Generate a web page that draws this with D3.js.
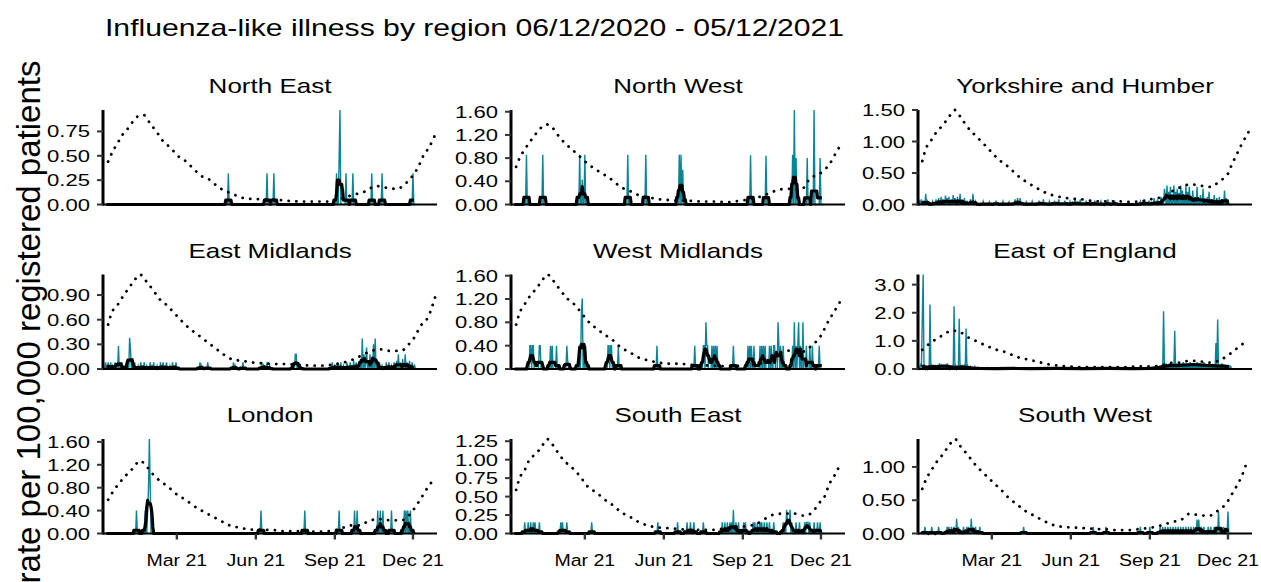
<!DOCTYPE html>
<html>
<head>
  <meta http-equiv="Content-Type" content="text/html;charset=utf-8" />
  <style type="text/css">
    body { margin: 0; background: #fff; }
    text { font-family: "Liberation Sans", Arial, sans-serif; fill: #000; }
  </style>
</head>
<body>
  <div id="chart"></div>
  <script src="https://d3js.org/d3.v7.min.js"></script>
  <script type="text/javascript">
    var W = 1261, H = 582;

    var title = "Influenza-like illness by region 06/12/2020 - 05/12/2021";
    var yTitle = "rate per 100,000 registered patients";

    var regions = ["North East", "North West", "Yorkshire and Humber",
                   "East Midlands", "West Midlands", "East of England",
                   "London", "South East", "South West"];

    // y tick labels per panel (free y scales)
    var yTicks = [
      [0, 0.25, 0.5, 0.75],
      [0, 0.4, 0.8, 1.2, 1.6],
      [0, 0.5, 1.0, 1.5],
      [0, 0.3, 0.6, 0.9],
      [0, 0.4, 0.8, 1.2, 1.6],
      [0, 1, 2, 3],
      [0, 0.4, 0.8, 1.2, 1.6],
      [0, 0.25, 0.5, 0.75, 1.0, 1.25],
      [0, 0.5, 1.0]
    ];
    var yFormats = [".2f", ".2f", ".2f", ".2f", ".2f", ".1f", ".2f", ".2f", ".2f"];

    var xTicks = ["2021-03-01", "2021-06-01", "2021-09-01", "2021-12-01"];

    // daily rate: [day, value], day 0 = 06/12/2020, every other day is 0
    var dailyNE = [[145,0.32],[190,0.32],[198,0.32],[271,0.32],[274,0.47],[275,0.97],[282,0.32],
      [290,0.32],[312,0.32],[324,0.32],[360,0.32]];
    var dailyNW = [[17,0.86],[36,0.86],[79,0.86],[82,0.43],[85,0.86],[135,0.86],[156,0.86],
      [195,0.86],[197,0.86],[199,0.6],[278,0.85],[296,0.84],[327,0.86],[329,1.63],[331,0.8],
      [344,0.8],[352,1.63],[359,0.8]];
    var dailyYH = [[1,0.05],[3,0.08],[8,0.17],[10,0.05],[16,0.05],[20,0.08],[23,0.1],[26,0.12],
      [28,0.08],[31,0.14],[33,0.1],[35,0.12],[38,0.08],[40,0.15],[42,0.1],[45,0.12],[48,0.17],
      [50,0.08],[53,0.1],[56,0.06],[60,0.08],[63,0.17],[66,0.05],[75,0.05],[82,0.04],[90,0.06],
      [98,0.05],[105,0.04],[112,0.08],[115,0.1],[118,0.1],[125,0.04],[132,0.05],[140,0.06],
      [145,0.08],[152,0.05],[158,0.06],[163,0.08],[170,0.06],[176,0.05],[182,0.1],[188,0.08],
      [195,0.06],[200,0.05],[205,0.06],[212,0.05],[220,0.08],[228,0.06],[258,0.05],[263,0.08],
      [268,0.06],[274,0.1],[278,0.08],[282,0.12],[286,0.25],[287,0.15],[289,0.3],[291,0.2],
      [293,0.28],[295,0.15],[297,0.3],[299,0.2],[301,0.25],[303,0.18],[305,0.3],[307,0.22],
      [309,0.15],[311,0.3],[313,0.2],[315,0.28],[317,0.12],[319,0.22],[322,0.12],[324,0.28],
      [326,0.1],[328,0.15],[331,0.25],[333,0.1],[336,0.12],[338,0.2],[341,0.08],[344,0.15],
      [347,0.1],[350,0.12],[353,0.08],[356,0.22],[358,0.1],[360,0.08]];
    var dailyEM = [[2,0.08],[5,0.08],[8,0.08],[10,0.04],[13,0.08],[17,0.28],[19,0.08],[21,0.08],
      [25,0.04],[28,0.08],[30,0.38],[31,0.25],[33,0.08],[36,0.08],[40,0.04],[43,0.08],[47,0.08],
      [50,0.04],[54,0.08],[58,0.08],[62,0.04],[66,0.08],[69,0.08],[73,0.08],[77,0.04],[80,0.08],
      [84,0.08],[112,0.08],[114,0.04],[121,0.08],[151,0.08],[153,0.04],[162,0.08],[184,0.08],
      [186,0.04],[190,0.08],[193,0.04],[221,0.08],[223,0.18],[224,0.18],[226,0.08],[229,0.04],
      [266,0.08],[269,0.04],[272,0.08],[276,0.08],[279,0.04],[283,0.08],[287,0.08],[291,0.1],
      [294,0.08],[297,0.08],[299,0.12],[301,0.37],[303,0.18],[305,0.08],[306,0.26],[308,0.1],
      [310,0.18],[312,0.08],[314,0.3],[316,0.37],[318,0.08],[321,0.08],[324,0.04],[329,0.08],
      [332,0.08],[335,0.04],[338,0.08],[341,0.1],[343,0.18],[345,0.08],[348,0.12],[351,0.18],
      [353,0.08],[356,0.1],[359,0.08],[362,0.04]];
    var dailyWM = [[21,0.4],[22,0.4],[24,0.4],[25,0.4],[32,0.4],[33,0.4],[45,0.4],[47,0.4],
      [52,0.4],[64,0.4],[65,0.15],[78,0.4],[81,0.95],[82,1.21],[84,0.4],[86,0.4],[112,0.4],
      [113,0.4],[115,0.4],[116,0.4],[124,0.4],[169,0.4],[213,0.4],[223,0.4],[224,0.4],[226,0.8],
      [227,0.4],[228,0.4],[233,0.4],[235,0.4],[237,0.4],[239,0.4],[258,0.4],[275,0.4],[277,0.4],
      [279,0.4],[282,0.4],[289,0.4],[291,0.4],[293,0.4],[295,0.4],[300,0.4],[302,0.4],[305,0.4],
      [306,0.4],[310,0.8],[311,0.4],[313,0.4],[316,0.4],[327,0.4],[329,0.8],[331,0.4],[333,0.4],
      [334,0.8],[336,0.4],[339,0.8],[343,0.4],[347,0.4],[350,0.4],[358,0.4]];
    var dailyEE = [[0,0.1],[2,0.15],[3,0.1],[4,1.79],[5,3.36],[7,0.1],[9,0.12],[11,0.08],[13,2.29],
      [15,0.1],[17,0.15],[19,0.1],[22,0.1],[24,0.2],[26,0.1],[28,0.15],[31,0.1],[33,0.2],[35,0.1],
      [37,0.12],[39,0.15],[41,2.23],[43,0.1],[45,0.12],[47,1.79],[49,0.1],[51,0.15],[53,0.1],
      [55,1.44],[57,0.1],[60,0.08],[65,0.12],[70,0.05],[80,0.05],[95,0.04],[110,0.05],[130,0.04],
      [150,0.05],[180,0.04],[210,0.04],[240,0.05],[265,0.05],[278,0.08],[283,0.1],[285,2.05],
      [286,0.15],[288,0.2],[290,0.12],[292,0.2],[294,0.1],[296,0.15],[298,1.36],[300,0.2],
      [302,0.12],[304,0.2],[306,0.15],[308,0.25],[310,0.12],[312,0.2],[314,0.15],[316,0.25],
      [318,0.12],[320,0.2],[322,0.15],[324,0.25],[326,0.1],[328,0.2],[330,0.15],[332,0.25],
      [334,0.1],[336,0.15],[338,0.2],[340,0.12],[342,0.18],[344,0.1],[346,0.92],[348,1.76],
      [349,0.15],[351,0.1],[353,0.2],[355,0.12],[357,0.15],[359,0.1],[361,0.15],[363,0.12]];
    var dailyLO = [[38,0.4],[48,0.4],[51,0.4],[52,0.8],[53,1.65],[54,0.8],[183,0.4],[234,0.4],
      [274,0.4],[292,0.4],[295,0.4],[319,0.4],[322,0.4],[325,0.4],[335,0.4],[350,0.4],[352,0.4],
      [354,0.4],[357,0.4]];
    var dailySE = [[15,0.15],[19,0.15],[22,0.15],[25,0.15],[27,0.15],[32,0.15],[57,0.15],[59,0.15],
      [64,0.15],[93,0.15],[170,0.15],[193,0.15],[204,0.15],[208,0.15],[212,0.15],[223,0.15],
      [245,0.15],[248,0.15],[251,0.15],[254,0.15],[256,0.15],[258,0.32],[261,0.15],[264,0.15],
      [270,0.15],[272,0.15],[281,0.15],[283,0.15],[286,0.15],[289,0.15],[291,0.15],[294,0.15],
      [297,0.15],[300,0.15],[305,0.15],[316,0.15],[318,0.15],[320,0.32],[321,0.15],[322,0.15],
      [323,0.15],[324,0.32],[326,0.15],[331,0.15],[335,0.15],[341,0.15],[343,0.15],[344,0.15],
      [345,0.15],[347,0.15],[352,0.15],[356,0.15],[359,0.15]];
    var dailySW = [[7,0.1],[15,0.1],[23,0.1],[33,0.1],[35,0.1],[38,0.1],[41,0.1],[44,0.22],[46,0.1],
      [52,0.1],[56,0.1],[58,0.1],[61,0.22],[63,0.1],[66,0.1],[71,0.1],[122,0.1],[203,0.1],
      [218,0.1],[258,0.1],[269,0.1],[281,0.1],[284,0.1],[287,0.1],[290,0.1],[293,0.1],[296,0.1],
      [299,0.1],[302,0.1],[305,0.1],[308,0.1],[311,0.1],[314,0.1],[317,0.1],[320,0.1],[324,0.21],
      [326,0.21],[329,0.1],[332,0.1],[337,0.1],[340,0.1],[344,0.1],[347,0.1],[349,0.33],
      [351,0.1],[355,0.1],[360,0.33]];

    // East of England 7-day average (not a plain mean of the spikes)
    var avgEE = [[3,0.08],[5,0.1],[9,0.06],[14,0.09],[20,0.08],[26,0.1],[32,0.1],[38,0.07],
      [44,0.06],[50,0.08],[56,0.06],[63,0.03],[70,0.02],[90,0.01],[110,0.02],[130,0.01],
      [160,0.02],[190,0.01],[220,0.02],[250,0.01],[270,0.02],[280,0.06],[287,0.1],[293,0.13],
      [300,0.12],[306,0.14],[313,0.15],[320,0.16],[327,0.15],[335,0.13],[342,0.12],[348,0.1],
      [354,0.11],[361,0.08]];

    // seasonal threshold (dotted), [day, value]
    var threshNE = [[5,0.44],[10,0.54],[16,0.63],[22,0.72],[30,0.8],[37,0.89],[46,0.92],[54,0.83],
      [62,0.74],[69,0.65],[78,0.58],[86,0.5],[96,0.44],[105,0.36],[114,0.29],[124,0.25],[133,0.18],
      [144,0.13],[155,0.09],[166,0.06],[181,0.055],[205,0.045],[219,0.035],[233,0.03],[245,0.03],
      [259,0.03],[270,0.045],[283,0.08],[295,0.11],[306,0.14],[316,0.19],[330,0.17],[341,0.16],
      [352,0.22],[360,0.3],[367,0.4],[372,0.5],[379,0.59],[385,0.7]];
    var threshNW = [[5,0.65],[9,0.8],[15,0.95],[22,1.1],[29,1.24],[36,1.35],[41,1.38],[47,1.33],
      [53,1.21],[61,1.07],[70,0.95],[79,0.83],[87,0.72],[96,0.62],[107,0.52],[117,0.42],[126,0.31],
      [138,0.23],[148,0.16],[160,0.12],[172,0.09],[184,0.075],[211,0.06],[224,0.05],[238,0.05],
      [251,0.04],[264,0.06],[276,0.09],[288,0.13],[301,0.2],[312,0.26],[324,0.27],[337,0.26],
      [347,0.44],[363,0.58],[371,0.72],[377,0.88],[385,1.08]];
    var threshYH = [[4,0.69],[8,0.88],[14,1.01],[20,1.14],[28,1.26],[35,1.39],[42,1.5],[49,1.38],
      [56,1.24],[64,1.12],[72,1.01],[80,0.9],[88,0.78],[96,0.68],[105,0.59],[114,0.47],[124,0.37],
      [135,0.28],[144,0.21],[155,0.15],[168,0.11],[179,0.09],[192,0.08],[205,0.05],[219,0.05],
      [232,0.05],[244,0.04],[258,0.05],[269,0.08],[283,0.12],[295,0.21],[304,0.27],[316,0.32],
      [328,0.3],[340,0.28],[350,0.37],[360,0.49],[365,0.65],[370,0.79],[375,0.93],[384,1.15]];
    var threshEM = [[5,0.54],[9,0.68],[16,0.78],[22,0.88],[28,0.97],[35,1.07],[42,1.15],[50,1.06],
      [58,0.95],[65,0.85],[74,0.77],[83,0.67],[91,0.58],[100,0.49],[109,0.42],[119,0.34],[129,0.26],
      [139,0.18],[149,0.12],[161,0.1],[173,0.08],[186,0.07],[199,0.06],[213,0.06],[225,0.05],
      [251,0.04],[264,0.05],[276,0.07],[289,0.11],[299,0.16],[309,0.21],[322,0.24],[334,0.22],
      [346,0.22],[355,0.3],[362,0.39],[368,0.51],[378,0.64],[386,0.88]];
    var threshWM = [[5,0.76],[9,0.96],[15,1.11],[21,1.25],[28,1.37],[35,1.51],[41,1.62],[50,1.48],
      [57,1.34],[65,1.2],[74,1.09],[81,0.96],[88,0.83],[98,0.7],[108,0.59],[118,0.49],[126,0.38],
      [137,0.29],[147,0.2],[158,0.15],[171,0.11],[183,0.09],[196,0.09],[208,0.07],[227,0.06],
      [250,0.05],[274,0.06],[293,0.11],[305,0.22],[316,0.3],[328,0.32],[340,0.3],[349,0.4],
      [359,0.55],[369,0.83],[376,1.0],[385,1.22]];
    var threshEE = [[4,0.68],[14,0.94],[24,1.13],[35,1.33],[41,1.36],[47,1.33],[57,1.13],[67,0.99],
      [79,0.82],[91,0.68],[102,0.59],[113,0.44],[125,0.35],[137,0.27],[149,0.18],[162,0.12],
      [174,0.09],[187,0.07],[200,0.07],[213,0.07],[227,0.07],[240,0.07],[254,0.09],[268,0.09],
      [281,0.12],[293,0.21],[304,0.23],[316,0.29],[328,0.27],[339,0.23],[353,0.35],[362,0.53],
      [372,0.77],[384,1.05]];
    var threshLO = [[5,0.59],[11,0.74],[18,0.88],[26,1.02],[34,1.14],[42,1.27],[51,1.15],[58,1.02],
      [76,0.8],[86,0.67],[95,0.59],[105,0.48],[115,0.39],[125,0.31],[135,0.23],[147,0.14],
      [159,0.1],[170,0.07],[197,0.06],[209,0.04],[222,0.04],[249,0.03],[262,0.04],[275,0.08],
      [287,0.14],[298,0.14],[310,0.23],[322,0.25],[335,0.23],[347,0.23],[356,0.33],[364,0.49],
      [370,0.63],[377,0.8],[385,0.96]];
    var threshSE = [[5,0.59],[9,0.75],[15,0.86],[20,0.99],[28,1.08],[35,1.18],[41,1.28],[50,1.16],
      [57,1.04],[65,0.94],[74,0.85],[81,0.75],[88,0.64],[99,0.55],[108,0.46],[118,0.38],[127,0.29],
      [137,0.23],[147,0.16],[158,0.11],[171,0.08],[184,0.07],[196,0.06],[208,0.05],[221,0.05],
      [234,0.05],[248,0.07],[260,0.09],[273,0.1],[285,0.13],[295,0.2],[306,0.26],[318,0.27],
      [329,0.27],[341,0.24],[351,0.3],[357,0.4],[365,0.52],[369,0.65],[376,0.79],[384,0.97]];
    var threshSW = [[4,0.67],[9,0.83],[15,0.96],[21,1.08],[28,1.19],[35,1.32],[42,1.42],[49,1.3],
      [57,1.18],[64,1.06],[72,0.95],[88,0.75],[97,0.64],[105,0.53],[114,0.44],[125,0.33],[134,0.27],
      [144,0.2],[156,0.13],[168,0.1],[179,0.09],[192,0.08],[205,0.07],[219,0.06],[232,0.05],
      [245,0.05],[258,0.07],[271,0.09],[282,0.12],[294,0.17],[306,0.21],[316,0.3],[328,0.27],
      [339,0.27],[349,0.35],[358,0.45],[365,0.6],[370,0.71],[376,0.86],[383,1.11]];

    var daily = [dailyNE, dailyNW, dailyYH, dailyEM, dailyWM, dailyEE, dailyLO, dailySE, dailySW];
    var thresh = [threshNE, threshNW, threshYH, threshEM, threshWM, threshEE, threshLO, threshSE, threshSW];
    var avgFixed = [null, null, null, null, null, avgEE, null, null, null];

    var start = new Date(2020, 11, 6);
    var nDays = 365;

    // layout
    var colX = [103, 511, 918];
    var rowY = [110, 274.5, 439];
    var pw = 334, ph = 94.5;
    var SX = 1.3;   // text in the target is drawn wide

    var svg = d3.select("#chart").append("svg")
      .attr("width", W).attr("height", H);

    function wideText(parent, x, y, str, size, anchor, sx) {
      return parent.append("g")
        .attr("transform", "translate(" + x + "," + y + ") scale(" + (sx || SX) + ",1)")
        .append("text")
        .attr("font-size", size)
        .attr("text-anchor", anchor || "start")
        .text(str);
    }

    wideText(svg, 105, 36, title, 23.2);

    svg.append("text")
      .attr("transform", "translate(40,322) rotate(-90)")
      .attr("font-size", 33)
      .attr("text-anchor", "middle")
      .text(yTitle);

    var x = d3.scaleTime()
      .domain([new Date(2020, 11, 5), new Date(2021, 11, 29)])
      .range([0, pw]);
    var day = function (d) { return d3.timeDay.offset(start, d); };
    var parseDay = d3.timeParse("%Y-%m-%d");
    var fmtX = d3.timeFormat("%b %y");

    function rolling(vals) {
      return vals.map(function (v, i) {
        if (i < 3 || i > vals.length - 4) return null;
        return d3.mean(vals.slice(i - 3, i + 4));
      });
    }

    regions.forEach(function (name, i) {
      var col = i % 3, row = Math.floor(i / 3);
      var g = svg.append("g")
        .attr("transform", "translate(" + colX[col] + "," + rowY[row] + ")");

      var vals = d3.range(nDays).map(function () { return 0; });
      daily[i].forEach(function (s) { vals[s[0]] = s[1]; });

      var ymax = Math.max(d3.max(vals), d3.max(thresh[i], function (d) { return d[1]; }));
      var y = d3.scaleLinear().domain([0, ymax]).range([ph, 0]);

      // strip title
      wideText(g, pw / 2, -17, name, 20, "middle");

      // daily rate
      g.append("path")
        .attr("d", d3.line()
          .x(function (v, d) { return x(day(d)); })
          .y(function (v) { return y(v); })(vals))
        .attr("fill", "none")
        .attr("stroke", "#0f8396")
        .attr("stroke-width", 1.4);

      // 7 day average
      var avgLine = d3.line()
        .defined(function (p) { return p[1] != null; })
        .x(function (p) { return x(day(p[0])); })
        .y(function (p) { return y(p[1]); });
      var avgPts = avgFixed[i] ? avgFixed[i]
        : rolling(vals).map(function (v, d) { return [d, v]; });
      g.append("path")
        .attr("d", avgLine(avgPts))
        .attr("fill", "none")
        .attr("stroke", "#000")
        .attr("stroke-width", 3.2)
        .attr("stroke-linejoin", "round");

      // threshold
      g.append("path")
        .attr("d", d3.line()
          .curve(d3.curveMonotoneX)
          .x(function (p) { return x(day(p[0])); })
          .y(function (p) { return y(p[1]); })(thresh[i]))
        .attr("fill", "none")
        .attr("stroke", "#000")
        .attr("stroke-width", 2.8)
        .attr("stroke-linecap", "round")
        .attr("stroke-dasharray", "0.1 7.6");

      // axes
      g.append("line")
        .attr("x1", 0).attr("x2", pw).attr("y1", ph).attr("y2", ph)
        .attr("stroke", "#000").attr("stroke-width", 2.2);
      g.append("line")
        .attr("x1", 0).attr("x2", 0).attr("y1", 0).attr("y2", ph + 1.1)
        .attr("stroke", "#000").attr("stroke-width", 3);

      var fy = d3.format(yFormats[i]);
      yTicks[i].forEach(function (t) {
        g.append("line")
          .attr("x1", -6).attr("x2", 0).attr("y1", y(t)).attr("y2", y(t))
          .attr("stroke", "#333").attr("stroke-width", 2);
        wideText(g, -13, y(t) + 6, fy(t), 17, "end");
      });

      if (row === 2) {
        xTicks.forEach(function (s) {
          var tx = x(parseDay(s));
          g.append("line")
            .attr("x1", tx).attr("x2", tx).attr("y1", ph).attr("y2", ph + 6)
            .attr("stroke", "#333").attr("stroke-width", 2.4);
          wideText(g, tx, ph + 32, fmtX(parseDay(s)), 17, "middle", 1.15);
        });
      }
    });
  </script>
</body>
</html>
